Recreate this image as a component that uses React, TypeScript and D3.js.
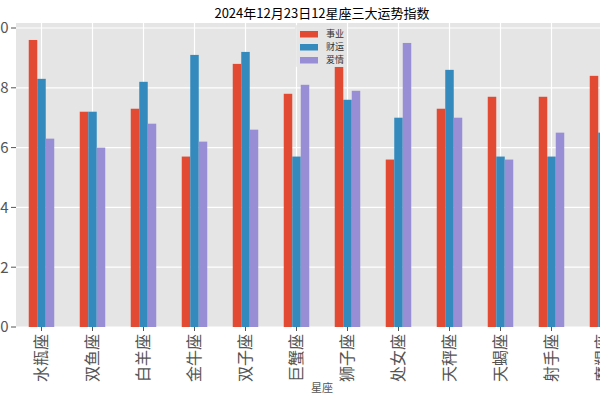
import React from "react";
import * as d3 from "d3";

const categories = ["水瓶座", "双鱼座", "白羊座", "金牛座", "双子座", "巨蟹座", "狮子座", "处女座", "天秤座", "天蝎座", "射手座", "摩羯座"];
const career = [9.6, 7.2, 7.3, 5.7, 8.8, 7.8, 8.7, 5.6, 7.3, 7.7, 7.7, 8.4];
const wealth = [8.3, 7.2, 8.2, 9.1, 9.2, 5.7, 7.6, 7.0, 8.6, 5.7, 5.7, 6.5];
const love = [6.3, 6.0, 6.8, 6.2, 6.6, 8.1, 7.9, 9.5, 7.0, 5.6, 6.5, 6.3];
const seriesNames = ["事业", "财运", "爱情"];
const seriesColors = ["#E24A33", "#348ABD", "#988ED5"];
const yTicks = [0, 2, 4, 6, 8, 10];
const title = "2024年12月23日12星座三大运势指数";
const xLabel = "星座";

const CJK = "'Noto Sans CJK SC', 'DejaVu Sans', sans-serif";

export default function App() {
  const W = 600, H = 400;
  const left = 16, right = 628, top = 23, bottom = 327;
  const series = [career, wealth, love];

  const x = d3.scaleBand<string>().domain(categories).range([left, right]).paddingInner(0.5).paddingOuter(0.25);
  const xs = d3.scaleBand<string>().domain(seriesNames).range([0, x.bandwidth()]).padding(0);
  const y = d3.scaleLinear().domain([0, 10]).range([bottom, 28]);

  const center = (c: string) => (x(c) as number) + x.bandwidth() / 2;

  return (
    <svg width={W} height={H} style={{ position: "absolute", left: 0, top: 0, background: "#fff" }}>
      <rect x={left} y={top} width={right - left} height={bottom - top} fill="#E5E5E5" />
      {yTicks.map((t) => (
        <line key={"gy" + t} x1={left} x2={right} y1={y(t)} y2={y(t)} stroke="#fff" strokeWidth={1.2} />
      ))}
      {categories.map((c) => (
        <line key={"gx" + c} x1={center(c)} x2={center(c)} y1={top} y2={bottom} stroke="#fff" strokeWidth={1.2} />
      ))}
      {series.map((vals, si) =>
        vals.map((v, i) => (
          <rect
            key={si + "-" + i}
            x={(x(categories[i]) as number) + (xs(seriesNames[si]) as number)}
            y={y(v)}
            width={xs.bandwidth()}
            height={y(0) - y(v)}
            fill={seriesColors[si]}
          />
        ))
      )}
      {yTicks.map((t) => (
        <g key={"ty" + t}>
          <line x1={11} x2={16} y1={y(t)} y2={y(t)} stroke="#555" strokeWidth={1} />
          <text x={8.5} y={y(t)} dy="0.36em" textAnchor="end" fontSize={15} fill="#555" fontFamily={CJK}>
            {t}
          </text>
        </g>
      ))}
      {categories.map((c) => (
        <g key={"tx" + c}>
          <line x1={center(c)} x2={center(c)} y1={bottom} y2={bottom + 4} stroke="#555" strokeWidth={1} />
          <text
            transform={`translate(${center(c)},${bottom + 7}) rotate(-90)`}
            dy="0.35em"
            textAnchor="end"
            fontSize={16}
            fill="#555"
            fontFamily={CJK}
          >
            {c}
          </text>
        </g>
      ))}
      <text x={(left + right) / 2} y={392} textAnchor="middle" fontSize={11} fill="#555" fontFamily={CJK}>
        {xLabel}
      </text>
      <text x={(left + right) / 2} y={18} textAnchor="middle" fontSize={13} fill="#000" fontFamily={CJK}>
        {title}
      </text>
      <g>
        <rect x={295} y={25} width={52} height={42} fill="#E5E5E5" fillOpacity={0.8} rx={2} />
        {seriesNames.map((n, i) => (
          <g key={"lg" + n}>
            <rect x={300} y={31 + i * 13} width={18} height={6.5} fill={seriesColors[i]} />
            <text x={326} y={34.3 + i * 13} dy="0.35em" fontSize={9} fill="#333" fontFamily={CJK}>
              {n}
            </text>
          </g>
        ))}
      </g>
    </svg>
  );
}
